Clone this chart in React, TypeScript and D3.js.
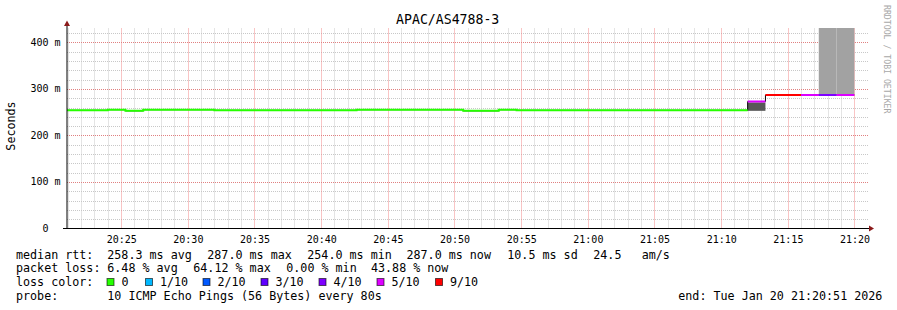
import React from "react";
import * as d3 from "d3";

const W = 897;
const H = 310;
const TITLE = "APAC/AS4788-3";
const Y_TITLE = "Seconds";
const WATERMARK = "RRDTOOL / TOBI OETIKER";

// time axis
const RANGE_START = new Date(2026, 0, 20, 20, 20, 57);
const RANGE_END = new Date(2026, 0, 20, 21, 20, 57);
const FIRST_SAMPLE_END = new Date(2026, 0, 20, 20, 21, 20);
const STEP_SECONDS = 80;

// median rtt (ms) per 80 s sample
const medianMs = [
  254, 254, 254, 255.5, 253, 255.5, 255.5, 255.5, 255.5,
  254, 254, 254, 254, 254, 254, 254, 254,
  255.5, 255.5, 255.5, 255.5, 255.5, 255.5,
  253, 253, 255.5,
  254, 254, 254, 254, 254, 254, 254, 254, 254, 254, 254, 254, 254,
  273, 287, 287, 287, 287, 287,
];
// loss color index per sample
const lossLevel = [
  0, 0, 0, 0, 0, 0, 0, 0, 0,
  0, 0, 0, 0, 0, 0, 0, 0,
  0, 0, 0, 0, 0, 0,
  0, 0, 0,
  0, 0, 0, 0, 0, 0, 0, 0, 0, 0, 0, 0, 0,
  5, 6, 6, 5, 4, 5,
];

// smoke (ping spread) per sample index
const smokeSample = [39, 43, 44];
const smokeLowMs = [253, 288, 288];
const smokeHighMs = [271, 700, 700];
const smokeShade = ["#585858", "#a2a2a2", "#a2a2a2"];

const LOSS_LABELS = ["0", "1/10", "2/10", "3/10", "4/10", "5/10", "9/10"];
const LOSS_COLORS = ["#26ff00", "#00b8ff", "#0059ff", "#5e00ff", "#7e00ff", "#dd00ff", "#ff0000"];

const Y_TICKS = [0, 100, 200, 300, 400];
const Y_TICK_LABELS = ["0", "100 m", "200 m", "300 m", "400 m"];

const LEGEND_ROW1 = [
  ["median rtt:", 16],
  ["258.3 ms avg", 107.3],
  ["287.0 ms max", 207.3],
  ["254.0 ms min", 307.3],
  ["287.0 ms now", 406.5],
  ["10.5 ms sd", 507.3],
  ["24.5", 593.3],
  ["am/s", 641.7],
] as const;
const LEGEND_ROW2 = [
  ["packet loss:", 16],
  ["6.48 % avg", 107.3],
  ["64.12 % max", 193.3],
  ["0.00 % min", 286.3],
  ["43.88 % now", 371],
] as const;
const LOSS_BOX_X = [106.5, 145, 202.5, 260.5, 318.5, 376.5, 435];
const PROBE_TEXT = "10 ICMP Echo Pings (56 Bytes) every 80s";
const END_TEXT = "end: Tue Jan 20 21:20:51 2026";

const MONO = "'DejaVu Sans Mono', monospace";

export default function App() {
  const left = 67, right = 867, top = 28.5, bottom = 228.5;
  const x = d3.scaleTime().domain([RANGE_START, RANGE_END]).range([left, right]);
  const y = d3.scaleLinear().domain([0, 430]).range([bottom, top]);

  const sampleEnd = medianMs.map((_, i) => new Date(FIRST_SAMPLE_END.getTime() + i * STEP_SECONDS * 1000));
  const sampleStart = sampleEnd.map((d) => new Date(d.getTime() - STEP_SECONDS * 1000));

  const minutes = d3.timeMinute.range(RANGE_START, RANGE_END);
  const minorX = minutes.filter((d) => d.getMinutes() % 5 !== 0);
  const majorX = minutes.filter((d) => d.getMinutes() % 5 === 0);
  const minorY = d3.range(20, 430, 20).filter((v) => v % 100 !== 0);
  const majorY = Y_TICKS.filter((v) => v > 0);
  const fmt = d3.timeFormat("%H:%M");
  const px = (v: number) => Math.round(v) + 0.5;

  // black median step line
  const stepPts: [number, number][] = [];
  medianMs.forEach((v, i) => {
    stepPts.push([x(sampleStart[i]), y(v)]);
    stepPts.push([x(sampleEnd[i]), y(v)]);
  });
  const lineGen = d3.line<[number, number]>().x((d) => d[0]).y((d) => d[1]);

  // colored runs
  const runs: { color: string; pts: [number, number][] }[] = [];
  medianMs.forEach((v, i) => {
    const c = LOSS_COLORS[lossLevel[i]];
    const last = runs[runs.length - 1];
    const seg: [number, number][] = [[x(sampleStart[i]), y(v)], [x(sampleEnd[i]), y(v)]];
    if (last && last.color === c) last.pts.push(...seg);
    else runs.push({ color: c, pts: seg });
  });

  return (
    <svg width={W} height={H} style={{ position: "absolute", left: 0, top: 0, background: "#fff" }} fontFamily={MONO}>
      <defs>
        <clipPath id="plot">
          <rect x={left} y={top - 0.5} width={right - left} height={bottom - top + 0.5} />
        </clipPath>
      </defs>
      <rect width={W} height={H} fill="#fff" />
      <text x={447.7} y={24} textAnchor="middle" fontSize={13.2} fill="#000">{TITLE}</text>

      {/* grid */}
      {minorX.map((d, i) => (
        <line key={"mx" + i} x1={px(x(d))} x2={px(x(d))} y1={top} y2={bottom} stroke="#c8c8c8" strokeDasharray="1,1" />
      ))}
      {minorY.map((v, i) => (
        <line key={"my" + i} x1={left} x2={869} y1={px(y(v))} y2={px(y(v))} stroke="#c8c8c8" strokeDasharray="1,1" />
      ))}
      {majorX.map((d, i) => (
        <line key={"Mx" + i} x1={px(x(d))} x2={px(x(d))} y1={top} y2={bottom} stroke="#f28a8a" strokeDasharray="1,1" />
      ))}
      {majorY.map((v, i) => (
        <line key={"My" + i} x1={left} x2={869} y1={px(y(v))} y2={px(y(v))} stroke="#e08080" strokeDasharray="1,1" />
      ))}

      <g clipPath="url(#plot)">
        {smokeSample.map((si, k) => (
          <rect key={"s" + k} x={x(sampleStart[si])} width={x(sampleEnd[si]) - x(sampleStart[si])}
            y={y(smokeHighMs[k])} height={y(smokeLowMs[k]) - y(smokeHighMs[k])} fill={smokeShade[k]} />
        ))}
        <path d={lineGen(stepPts) || ""} fill="none" stroke="#000" strokeWidth={1} />
        {runs.map((r, i) => (
          <path key={"r" + i} d={lineGen(r.pts) || ""} fill="none" stroke={r.color} strokeWidth={2} />
        ))}
      </g>

      {/* axes */}
      <line x1={63} x2={869} y1={bottom} y2={bottom} stroke="#000" />
      <path d={`M869,225.5 L874,228.5 L869,231.5 Z`} fill="#8b1a1a" />
      <line x1={67} x2={67} y1={bottom + 0.5} y2={25} stroke="#000" />
      <path d={`M64,26 L67,20.5 L70,26 Z`} fill="#8b1a1a" />

      {Y_TICKS.map((v, i) => (
        <text key={"yl" + i} x={v === 0 ? 48.5 : 60.5} y={y(v) + 3.4} textAnchor="end" fontSize={10} fill="#000">
          {Y_TICK_LABELS[i]}
        </text>
      ))}
      {majorX.map((d, i) => (
        <text key={"xl" + i} x={x(d) + 0.7} y={242.5} textAnchor="middle" fontSize={10} fill="#000">{fmt(d)}</text>
      ))}

      <text transform="translate(15,126) rotate(-90)" textAnchor="middle" fontSize={11.7} fill="#000">{Y_TITLE}</text>
      <text transform="translate(884,5) rotate(90)" textAnchor="start" fontSize={8.2} fill="#a8a8a8">{WATERMARK}</text>

      {/* legend */}
      <g fontSize={11.7} fill="#000">
        {LEGEND_ROW1.map(([t, lx], i) => (
          <text key={"l1" + i} x={lx} y={258.5}>{t}</text>
        ))}
        {LEGEND_ROW2.map(([t, lx], i) => (
          <text key={"l2" + i} x={lx} y={272.2}>{t}</text>
        ))}
        <text x={16} y={285.9}>loss color:</text>
        {LOSS_LABELS.map((lab, i) => (
          <g key={"lc" + i}>
            <rect x={LOSS_BOX_X[i] + 0.5} y={278.5} width={7} height={7} fill={LOSS_COLORS[i]} stroke="#000" strokeOpacity={0.6} />
            <text x={LOSS_BOX_X[i] + 15} y={285.9}>{lab}</text>
          </g>
        ))}
        <text x={16} y={299.6}>probe:</text>
        <text x={107.3} y={299.6}>{PROBE_TEXT}</text>
        <text x={678.3} y={299.6}>{END_TEXT}</text>
      </g>
    </svg>
  );
}
